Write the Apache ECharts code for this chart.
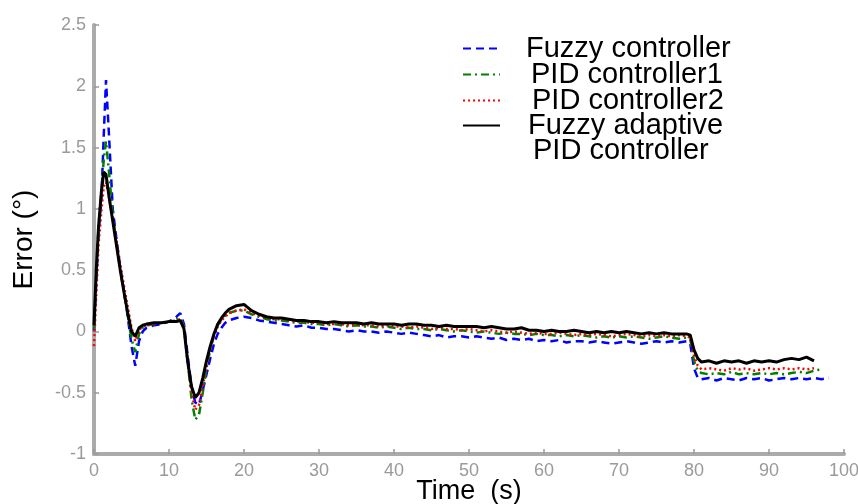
<!DOCTYPE html>
<html>
<head>
<meta charset="utf-8">
<script src="https://cdn.jsdelivr.net/npm/echarts@6/dist/echarts.min.js"></script>
<style>html,body{margin:0;padding:0;background:#fff}#c{width:858px;height:504px}</style>
</head>
<body>
<div id="c"></div>
<script>
const time = [0,0.3,0.6,1,1.3,1.6,2,2.5,3,3.5,4,4.5,5,5.5,6,6.5,7,8,9,10,11,11.5,12,12.5,13,13.5,14,14.5,15,15.5,16,16.5,17,17.5,18,
  19,20,21,22,23,24,25,26,27,28,
  29,30,31,32,33,34,35,36,37,38,
  39,40,41,42,43,44,45,46,47,48,
  49,50,51,52,53,54,55,56,57,58,
  59,60,61,62,63,64,65,66,67,68,
  69,70,71,72,73,74,75,76,77,78,
  79,79.5,80,80.5,
  81,82,83,84,85,86,87,88,89,90,91,92,93,94,95,96,97,98];

const fuzzy = [0.0,0.4,0.8,1.1,1.6,2.05,1.6,1.0,0.75,0.52,0.33,0.12,-0.12,-0.28,-0.08,0.0,0.03,0.05,0.06,0.08,0.12,0.15,0.06,-0.2,-0.45,-0.58,-0.6,-0.48,-0.35,-0.22,-0.1,-0.02,0.03,0.07,0.09,
  0.11,0.12,0.11,0.09,0.08,0.07,0.06,0.05,0.04,0.05,
  0.03,0.03,0.02,0.02,0.01,0.00,0.01,0.00,0.00,-0.01,
  0.00,-0.01,-0.02,-0.01,-0.02,-0.03,-0.04,-0.03,-0.05,-0.04,
  -0.04,-0.05,-0.04,-0.05,-0.06,-0.05,-0.07,-0.06,-0.07,-0.06,
  -0.08,-0.07,-0.08,-0.07,-0.09,-0.08,-0.08,-0.09,-0.08,-0.09,
  -0.10,-0.09,-0.08,-0.09,-0.10,-0.09,-0.08,-0.09,-0.08,-0.09,
  -0.08,-0.10,-0.30,-0.38,
  -0.39,-0.38,-0.40,-0.38,-0.39,-0.40,-0.38,-0.39,-0.38,-0.40,-0.39,-0.38,-0.39,-0.38,-0.39,-0.38,-0.39,-0.38];

const pid1 = [0.02,0.45,0.85,1.15,1.4,1.55,1.3,0.95,0.72,0.5,0.32,0.13,-0.06,-0.17,-0.02,0.03,0.05,0.06,0.07,0.08,0.1,0.11,0.04,-0.25,-0.55,-0.72,-0.68,-0.5,-0.3,-0.15,-0.03,0.05,0.1,0.13,0.15,
  0.17,0.17,0.14,0.12,0.10,0.09,0.09,0.08,0.07,0.07,
  0.06,0.06,0.05,0.06,0.05,0.04,0.05,0.04,0.04,0.03,
  0.04,0.03,0.02,0.03,0.02,0.02,0.01,0.02,0.01,0.00,
  0.01,0.00,-0.01,0.00,-0.01,-0.02,-0.01,-0.02,-0.02,-0.03,
  -0.02,-0.03,-0.03,-0.04,-0.03,-0.04,-0.03,-0.04,-0.05,-0.04,
  -0.05,-0.04,-0.05,-0.04,-0.05,-0.06,-0.05,-0.04,-0.05,-0.06,
  -0.05,-0.06,-0.24,-0.32,
  -0.34,-0.35,-0.34,-0.35,-0.33,-0.35,-0.34,-0.35,-0.34,-0.35,-0.34,-0.35,-0.34,-0.33,-0.34,-0.32,-0.31,null];

const pid2 = [-0.12,0.3,0.7,1.0,1.18,1.22,1.1,0.92,0.74,0.55,0.37,0.2,0.03,-0.08,0.01,0.04,0.05,0.06,0.07,0.08,0.09,0.1,0.03,-0.26,-0.5,-0.64,-0.6,-0.45,-0.28,-0.14,-0.04,0.04,0.09,0.12,0.15,
  0.17,0.18,0.15,0.13,0.11,0.10,0.10,0.09,0.08,0.08,
  0.07,0.07,0.06,0.06,0.06,0.05,0.06,0.05,0.05,0.04,
  0.05,0.04,0.04,0.03,0.04,0.03,0.02,0.03,0.02,0.02,
  0.01,0.02,0.01,0.00,0.01,0.00,-0.01,0.00,-0.01,-0.02,
  -0.01,-0.02,-0.02,-0.01,-0.02,-0.03,-0.02,-0.03,-0.02,-0.03,
  -0.04,-0.03,-0.02,-0.03,-0.04,-0.03,-0.04,-0.03,-0.04,-0.03,
  -0.04,-0.05,-0.20,-0.28,
  -0.31,-0.30,-0.31,-0.32,-0.30,-0.31,-0.30,-0.32,-0.31,-0.30,-0.31,-0.30,-0.31,-0.30,-0.31,-0.30,null,null];

const fuzzyPid = [0.05,0.5,0.85,1.15,1.3,1.28,1.1,0.9,0.7,0.5,0.32,0.15,0.0,-0.04,0.03,0.05,0.06,0.07,0.07,0.08,0.08,0.09,0.02,-0.25,-0.45,-0.54,-0.5,-0.38,-0.24,-0.12,-0.02,0.06,0.11,0.15,0.18,
  0.21,0.22,0.17,0.14,0.12,0.11,0.11,0.10,0.09,0.09,
  0.08,0.08,0.07,0.08,0.07,0.07,0.07,0.06,0.07,0.06,
  0.06,0.06,0.05,0.06,0.06,0.05,0.05,0.04,0.05,0.04,
  0.04,0.04,0.04,0.03,0.04,0.03,0.02,0.02,0.03,0.01,
  0.01,0.00,0.01,0.00,0.00,0.01,0.00,-0.01,0.00,-0.01,
  0.00,-0.01,0.00,-0.01,-0.02,-0.01,-0.02,-0.01,-0.02,-0.02,
  -0.02,-0.03,-0.15,-0.22,
  -0.25,-0.24,-0.26,-0.24,-0.25,-0.24,-0.26,-0.24,-0.25,-0.24,-0.25,-0.23,-0.22,-0.23,-0.21,-0.24,null,null];

const seriesNames = ['Fuzzy controller','PID controller1','PID controller2','Fuzzy adaptive PID controller'];
const xTicks = {min:0, max:100, interval:10};
const yTicks = {min:-1, max:2.5, interval:0.5};

function pairs(arr){ const out=[]; for(let i=0;i<time.length;i++){ if(arr[i]!==null) out.push([time[i],arr[i]]); } return out; }

const font = 'Liberation Sans, Arial, sans-serif';
const axisGray = '#ababab';
const labelGray = '#9a9a9a';

const chart = echarts.init(document.getElementById('c'), null, {renderer:'canvas'});
chart.setOption({
  animation:false,
  backgroundColor:'#fff',
  grid:{left:94, right:14, top:25, bottom:50, containLabel:false, outerBoundsMode:'none'},
  xAxis:{type:'value', min:xTicks.min, max:xTicks.max, interval:xTicks.interval,
    name:'Time  (s)', nameLocation:'middle', nameGap:24, nameMoveOverlap:false,
    nameTextStyle:{fontFamily:font, fontSize:27, color:'#000'},
    axisLine:{show:true, onZero:false, lineStyle:{color:axisGray, width:4}},
    axisTick:{show:true, inside:true, length:5, lineStyle:{color:'#999', width:1.5}},
    axisLabel:{fontFamily:font, fontSize:18, color:labelGray, margin:8},
    splitLine:{show:false}},
  yAxis:{type:'value', min:yTicks.min, max:yTicks.max, interval:yTicks.interval,
    name:'Error (°)', nameLocation:'middle', nameGap:56, nameRotate:90, nameMoveOverlap:false,
    nameTextStyle:{fontFamily:font, fontSize:28, color:'#000'},
    axisLine:{show:true, onZero:false, lineStyle:{color:axisGray, width:4}},
    axisTick:{show:true, inside:true, length:5, lineStyle:{color:'#999', width:1.5}},
    axisLabel:{fontFamily:font, fontSize:18, color:labelGray, margin:8},
    splitLine:{show:false}},
  legend:[{
    orient:'vertical', left:462, top:34, padding:0, itemGap:-3, itemWidth:37, itemHeight:26,
    itemStyle:{opacity:0},
    textStyle:{fontFamily:font, fontSize:29, lineHeight:26, color:'#000'},
    data:[
      {name:seriesNames[0], textStyle:{padding:[0,0,0,21]}},
      {name:seriesNames[1], textStyle:{padding:[0,0,0,26]}},
      {name:seriesNames[2], textStyle:{padding:[0,0,0,27]}}
    ]
  },{
    orient:'vertical', left:462, top:88, padding:0, itemGap:0, itemWidth:37, itemHeight:26,
    itemStyle:{opacity:0},
    textStyle:{fontFamily:font, fontSize:29, lineHeight:25, color:'#000', padding:[25,0,0,23],
      rich:{a:{fontFamily:font, fontSize:29, lineHeight:25, color:'#000'}, b:{fontFamily:font, fontSize:29, lineHeight:25, color:'#000', padding:[0,0,0,5]}}},
    formatter:function(){ return '{a|Fuzzy adaptive}\n{b|PID controller}'; },
    data:[seriesNames[3]]
  }],
  series:[
    {name:seriesNames[0], type:'line', data:pairs(fuzzy), symbol:'none', showSymbol:false,
      lineStyle:{color:'#0000ff', width:2.5, type:[8,5]}, itemStyle:{color:'#0000ff'}, z:2},
    {name:seriesNames[1], type:'line', data:pairs(pid1), symbol:'none', showSymbol:false,
      lineStyle:{color:'#008000', width:2.5, type:[8,4,2,4]}, itemStyle:{color:'#008000'}, z:3},
    {name:seriesNames[2], type:'line', data:pairs(pid2), symbol:'none', showSymbol:false,
      lineStyle:{color:'#ff0000', width:2.5, type:[2,3]}, itemStyle:{color:'#ff0000'}, z:4},
    {name:seriesNames[3], type:'line', data:pairs(fuzzyPid), symbol:'none', showSymbol:false,
      lineStyle:{color:'#000000', width:3, type:'solid'}, itemStyle:{color:'#000000'}, z:5}
  ]
});
</script>
</body>
</html>
